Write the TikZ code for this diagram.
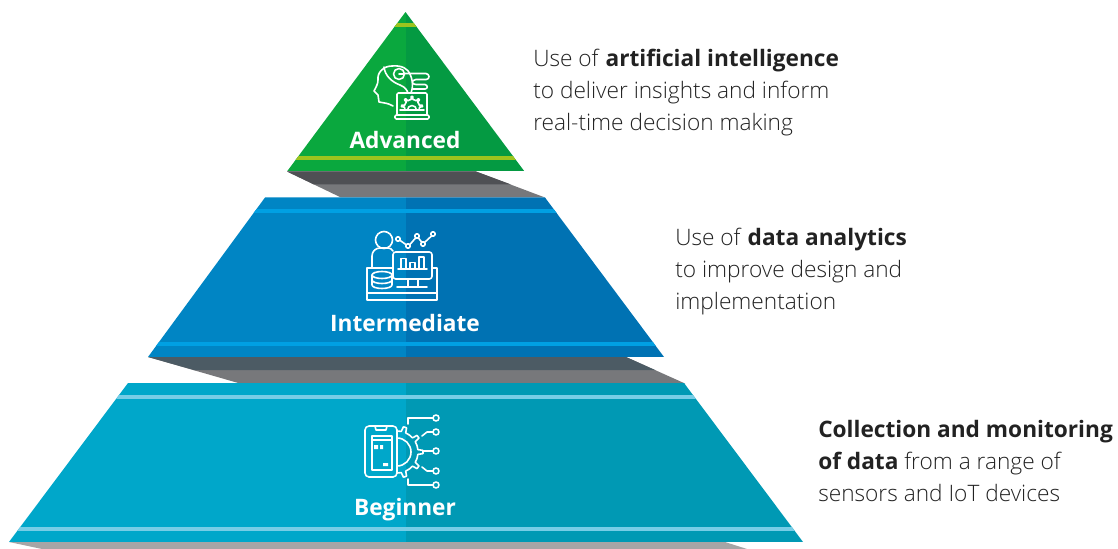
\documentclass[tikz,border=0pt]{standalone}
\usepackage{fontspec}
\setmainfont{Open Sans Light}[BoldFont={Open Sans Bold}]
\newfontfamily\labelfont{Open Sans Bold}
\usetikzlibrary{positioning,calc}

\definecolor{greenL}{HTML}{0AA83E}
\definecolor{greenR}{HTML}{049A42}
\definecolor{greenS}{HTML}{9CC41E}
\definecolor{blueL}{HTML}{0085C4}
\definecolor{blueR}{HTML}{0072B3}
\definecolor{blueS}{HTML}{00A0E3}
\definecolor{tealL}{HTML}{00A7CA}
\definecolor{tealR}{HTML}{0099B4}
\definecolor{tealS}{HTML}{77CDE6}
\definecolor{shadeA}{HTML}{4F5054}
\definecolor{shadeB}{HTML}{4C5B64}
\definecolor{shadeC}{HTML}{77787B}
\definecolor{shadeD}{HTML}{A7A5A6}
\definecolor{txtcol}{HTML}{222222}

\tikzset{
  levelname/.style={text=white, font=\labelfont\fontsize{17}{20}\selectfont, inner sep=0pt, anchor=base},
  sidetext/.style={text=txtcol, font=\fontsize{17}{24}\selectfont, align=left, anchor=north west, inner sep=0pt},
  icon/.style={draw=white, line width=1.2pt, line join=round, line cap=round},
  stripe/.style={line width=3pt}
}

% half gear: centre, inner and outer radius, first angle, step, number of teeth
\newcommand{\gearhalf}[6]{
  \draw[icon] (#1)++(#4:#2)
    \foreach \t in {1,...,#6}{
      arc[start angle={#4+(\t-1)*#5}, delta angle=#5*0.32, radius=#2]
      -- ($(#1)+({#4+(\t-1)*#5+#5*0.40}:#3)$)
      arc[start angle={#4+(\t-1)*#5+#5*0.40}, delta angle=#5*0.20, radius=#3]
      -- ($(#1)+({#4+(\t-1)*#5+#5*0.68}:#2)$)
      arc[start angle={#4+(\t-1)*#5+#5*0.68}, delta angle=#5*0.32, radius=#2]
    };
}

\begin{document}
\begin{tikzpicture}[x=0.75pt,y=-0.75pt]
\useasboundingbox (0,0) rectangle (1118,549);

% shadows between the levels
\fill[shadeD] (9,542) -- (725,542) -- (747,549) -- (42,549) -- cycle;
\fill[shadeC] (148,357) -- (626,357) -- (685,383.5) -- (240,383.5) -- cycle;
\fill[shadeB] (148,357) -- (626,357) -- (655,370) -- (194,370) -- cycle;
\fill[shadeC] (287,171.5) -- (476,171.5) -- (545,197.5) -- (341,197.5) -- cycle;
\fill[shadeA] (287,171.5) -- (476,171.5) -- (511,184.5) -- (314,184.5) -- cycle;

% beginner
\begin{scope}
\clip (128,383) -- (684,383) -- (803,542) -- (9,542) -- cycle;
\fill[tealL] (0,383) rectangle (405.5,542);
\fill[tealR] (405.5,383) rectangle (810,542);
\draw[stripe,tealS] (0,396.5) -- (810,396.5);
\draw[stripe,tealS] (0,529) -- (810,529);
\end{scope}

% intermediate
\begin{scope}
\clip (265,197.5) -- (545,197.5) -- (664,357) -- (148,357) -- cycle;
\fill[blueL] (140,197.5) rectangle (405.5,357);
\fill[blueR] (405.5,197.5) rectangle (670,357);
\draw[stripe,blueS] (140,211) -- (670,211);
\draw[stripe,blueS] (140,343.5) -- (670,343.5);
\end{scope}

% advanced
\begin{scope}
\clip (405.5,12) -- (524.5,171.5) -- (287,171.5) -- cycle;
\fill[greenL] (280,12) rectangle (405.5,171.5);
\fill[greenR] (405.5,12) rectangle (530,171.5);
\draw[stripe,greenS] (280,25.5) -- (530,25.5);
\draw[stripe,greenS] (280,158) -- (530,158);
\end{scope}

% level names
\node[levelname] (advanced) at (405,148.5) {Advanced};
\node[levelname] (intermediate) at (405,331) {Intermediate};
\node[levelname] (beginner) at (405,515) {Beginner};

% side texts
\node[sidetext] (advtext) at (533,49) {Use of \textbf{artificial intelligence}\\to deliver insights and inform\\real-time decision making};
\node[sidetext] (inttext) at (675,228) {Use of \textbf{data analytics}\\to improve design and\\implementation};
\node[sidetext] (begtext) at (818,420.5) {\textbf{Collection and monitoring}\\\textbf{of data} from a range of\\sensors and IoT devices};

% icon: head and laptop
\draw[icon] (393,106) .. controls (388,103) and (384,103) .. (379,102) -- (378,95) -- (374,91)
  .. controls (376,87) and (378,84) .. (378,80) .. controls (377,72) and (384,66) .. (392,66)
  .. controls (402,65) and (408,69) .. (410,74) .. controls (412,79) and (414,84) .. (411,93);
\draw[icon] (384,67) .. controls (385,76) and (392,82) .. (400,85) .. controls (405,87) and (407,90) .. (408,93);
\draw[icon] (399,74) circle (5.5);
\draw[icon] (399,74) -- (404,74);
\draw[icon] (404,73.5) -- (426,73.5) .. controls (430,74) and (430,79.5) .. (426,79.5) -- (416,79.5)
  .. controls (411,80) and (411,84.5) .. (416,84.5) -- (425,84.5) .. controls (428,85) and (428,89) .. (425,89) -- (413,89);
\draw[icon,rounded corners=1pt] (397,115) -- (397,93) -- (427,93) -- (427,115);
\draw[icon,rounded corners=1pt] (395,115) -- (429,115) -- (429,119) -- (395,119) -- cycle;
\gearhalf{412,107}{7.5}{10.5}{-195}{42}{5}
\draw[icon] (400,110) -- (424,110);
\draw[icon] (407.5,110) arc[start angle=180, end angle=360, radius=4.5];

% icon: analyst at desk
\draw[icon] (384,240) circle (8.5);
\draw[icon] (372,268) -- (372,256) .. controls (372,251) and (376,248) .. (380,248) -- (388,248) .. controls (390,248) and (392,249) .. (393,251);
\draw[icon] (392,268) -- (367,268) -- (367,300) -- (437,300) -- (437,268) -- (432,268);
\draw[icon] (367,293) -- (437,293);
\draw[icon,rounded corners=2pt] (393,252) rectangle (432,279);
\draw[icon] (408,279) -- (408,286) (418,279) -- (418,286) (397,287) -- (427,287);
\draw[icon] (398,269) -- (427,269);
\draw[icon] (401,269) -- (401,258.5) -- (406,258.5) -- (406,269);
\draw[icon] (410,269) -- (410,262.5) -- (415,262.5) -- (415,269);
\draw[icon] (419,269) -- (419,257) -- (424,257) -- (424,269);
\fill[blueL] (372,275) rectangle (392,288);
\draw[icon] (382,275) ellipse (10 and 3.5);
\draw[icon] (372,275) -- (372,285) arc[start angle=180, end angle=360, x radius=10, y radius=-3.5] -- (392,275);
\draw[icon] (372,280) arc[start angle=180, end angle=360, x radius=10, y radius=-3.5];
\draw[icon] (399.5,240) -- (406.5,245) (409.5,245) -- (416,237.5) (418.5,238) -- (422,242.5) (424.5,242.5) -- (431.5,236);
\foreach \cx/\cy in {398/239,408/246,417/236,423/244,433/234}
  \draw[icon] (\cx,\cy) circle (2.2);

% icon: phone, gear and sensors
\draw[icon,rounded corners=3pt] (365,426) rectangle (397,477);
\draw[icon] (375,426) -- (376,430) -- (386,430) -- (387,426);
\draw[icon] (372,436) rectangle (392,470);
\draw[icon] (372,440) -- (392,440);
\fill[white] (374,445) rectangle (378,449) (380,445) rectangle (383,449) (383,463) rectangle (388,466);
\gearhalf{397,452}{21}{26}{-90}{36}{5}
\draw[icon] (397,438) arc[start angle=-90, end angle=90, radius=14];
\draw[icon] (408,424) -- (408,418) -- (433,418);
\draw[icon] (422,436) -- (427,432) -- (433,432);
\draw[icon] (423,451) -- (433,451);
\draw[icon] (422,467) -- (427,471) -- (433,471);
\draw[icon] (408,479) -- (408,485) -- (433,485);
\foreach \cy in {418,432,451,471,485}
  \draw[icon] (436,\cy) circle (3);

\end{tikzpicture}
\end{document}
